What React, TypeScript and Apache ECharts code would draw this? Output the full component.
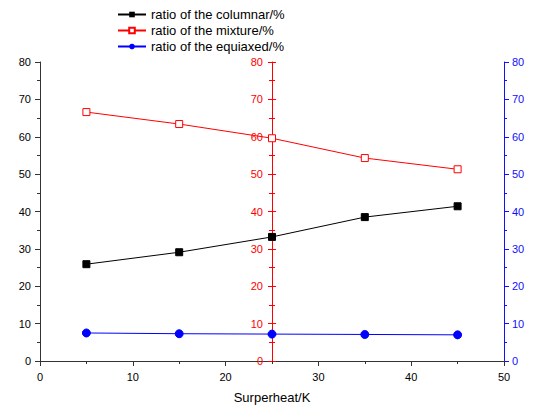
import React, { useEffect, useRef } from "react";
import * as echarts from "echarts";

const superheat = [5, 15, 25, 35, 45];
const columnar = [25.9, 29.1, 33.2, 38.5, 41.4];
const mixture = [66.6, 63.4, 59.6, 54.3, 51.3];
const equiaxed = [7.5, 7.3, 7.2, 7.1, 7.0];
const seriesNames = ["ratio of the columnar/%", "ratio of the mixture/%", "ratio of the equiaxed/%"];

export default function App() {
  const ref = useRef<HTMLDivElement>(null);
  useEffect(() => {
    const chart = echarts.init(ref.current!, null, { renderer: "svg" });
    const font = "'Liberation Sans', Arial, sans-serif";
    const gridLeft = 40;
    const gridRight = 33;
    const plotW = 537 - gridLeft - gridRight;
    const midOffset = -plotW * 0.5;
    const blue = "#1010ff";
    const yBase = {
      type: "value",
      min: 0,
      max: 80,
      interval: 10,
      splitLine: { show: false },
    };
    chart.setOption({
      animation: false,
      textStyle: { fontFamily: font },
      grid: { left: gridLeft, right: gridRight, top: 62, bottom: 50 },
      legend: {
        orient: "vertical",
        left: 112,
        top: 3,
        itemGap: 3,
        itemWidth: 28,
        itemHeight: 7,
        textStyle: { fontSize: 13, color: "#000", fontFamily: font },
        data: seriesNames,
      },
      xAxis: {
        type: "value",
        min: 0,
        max: 50,
        interval: 10,
        name: "Surperheat/K",
        nameLocation: "middle",
        nameGap: 30,
        nameTextStyle: { fontSize: 13, color: "#000" },
        axisLine: { lineStyle: { color: "#333", width: 1 } },
        axisTick: { length: 5, lineStyle: { color: "#333" } },
        minorTick: { show: true, splitNumber: 2, length: 3, lineStyle: { color: "#333" } },
        axisLabel: { fontSize: 11, color: "#000", margin: 10 },
        splitLine: { show: false },
      },
      yAxis: [
        {
          ...yBase,
          position: "left",
          axisLine: { show: true, onZero: false, lineStyle: { color: "#333" } },
          axisTick: { show: true, length: 5, lineStyle: { color: "#333" } },
          minorTick: { show: true, splitNumber: 2, length: 3, lineStyle: { color: "#333" } },
          axisLabel: { fontSize: 11, color: "#000", margin: 9 },
        },
        {
          ...yBase,
          position: "left",
          offset: midOffset,
          axisLine: { show: true, onZero: false, lineStyle: { color: "#ff0000" } },
          axisTick: { show: true, length: 4, lineStyle: { color: "#ff0000" } },
          minorTick: { show: true, splitNumber: 2, length: 3, lineStyle: { color: "#ff0000" } },
          axisLabel: { fontSize: 11, color: "#ff0000", margin: 9 },
        },
        {
          ...yBase,
          position: "left",
          offset: midOffset,
          axisLine: { show: false, onZero: false },
          axisTick: { show: true, inside: true, length: 4, lineStyle: { color: "#ff0000" } },
          minorTick: { show: true, splitNumber: 2, length: 3, lineStyle: { color: "#ff0000" } },
          axisLabel: { show: false },
        },
        {
          ...yBase,
          position: "right",
          axisLine: { show: true, onZero: false, lineStyle: { color: blue } },
          axisTick: { show: true, length: 5, lineStyle: { color: blue } },
          minorTick: { show: true, splitNumber: 2, length: 3, lineStyle: { color: blue } },
          axisLabel: { fontSize: 11, color: blue, margin: 8 },
        },
      ],
      series: [
        {
          name: seriesNames[0],
          type: "line",
          yAxisIndex: 0,
          data: superheat.map((x, i) => [x, columnar[i]]),
          symbol: "rect",
          symbolSize: 7,
          itemStyle: { color: "#000", borderColor: "#000" },
          lineStyle: { color: "#000", width: 1 },
        },
        {
          name: seriesNames[1],
          type: "line",
          yAxisIndex: 0,
          data: superheat.map((x, i) => [x, mixture[i]]),
          symbol: "rect",
          symbolSize: 7,
          itemStyle: { color: "#fff", borderColor: "#ff0000", borderWidth: 1 },
          lineStyle: { color: "#ff0000", width: 1 },
        },
        {
          name: seriesNames[2],
          type: "line",
          yAxisIndex: 0,
          data: superheat.map((x, i) => [x, equiaxed[i]]),
          symbol: "circle",
          symbolSize: 8,
          itemStyle: { color: "#0000ff", borderColor: "#0000ff" },
          lineStyle: { color: "#0000ff", width: 1 },
        },
      ],
    });
    return () => chart.dispose();
  }, []);
  return <div ref={ref} style={{ width: 537, height: 411, position: "absolute", left: 0, top: 0 }} />;
}
